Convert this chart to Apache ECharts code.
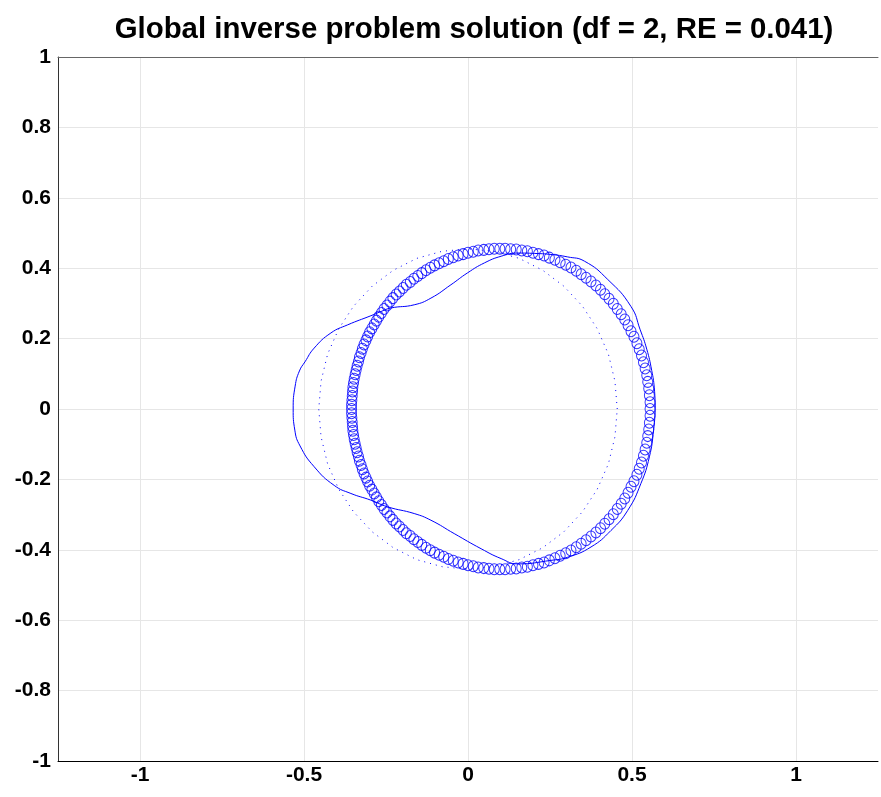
<!DOCTYPE html>
<html>
<head>
<meta charset="utf-8">
<script src="https://cdn.jsdelivr.net/npm/echarts@6.0.0/dist/echarts.min.js"></script>
<style>
html,body{margin:0;padding:0;background:#fff;}
#chart{width:881px;height:797px;}
</style>
</head>
<body>
<div id="chart"></div>
<script>
// ---- tick labels ----
var xTicks = [-1, -0.5, 0, 0.5, 1];
var yTicks = [-1, -0.8, -0.6, -0.4, -0.2, 0, 0.2, 0.4, 0.6, 0.8, 1];

// ---- circle markers (true boundary) ----
var markerX = [
0.555,0.555,0.553,0.551,0.548,0.545,0.540,0.535,0.529,0.522,
0.515,0.506,0.497,0.488,0.478,0.467,0.455,0.443,0.430,0.417,
0.404,0.390,0.375,0.360,0.345,0.330,0.314,0.298,0.281,0.265,
0.248,0.232,0.215,0.198,0.181,0.164,0.147,0.130,0.113,0.097,
0.080,0.064,0.048,0.031,0.016,0.000,
-0.015,-0.030,-0.045,-0.060,-0.074,-0.088,-0.102,-0.115,-0.128,-0.141,
-0.153,-0.165,-0.176,-0.188,-0.198,-0.209,-0.219,-0.229,-0.238,-0.247,
-0.256,-0.264,-0.272,-0.279,-0.286,-0.293,-0.300,-0.306,-0.311,-0.317,
-0.322,-0.326,-0.331,-0.334,-0.338,-0.341,-0.344,-0.347,-0.349,-0.351,
-0.352,-0.353,-0.354,-0.355,-0.355,
-0.355,-0.354,-0.353,-0.352,-0.351,-0.349,-0.347,-0.344,-0.341,-0.338,
-0.334,-0.331,-0.326,-0.322,-0.317,-0.311,-0.306,-0.300,-0.293,-0.286,
-0.279,-0.272,-0.264,-0.256,-0.247,-0.238,-0.229,-0.219,-0.209,-0.198,
-0.188,-0.176,-0.165,-0.153,-0.141,-0.128,-0.115,-0.102,-0.088,-0.074,
-0.060,-0.045,-0.030,-0.015,0.000,0.016,0.031,0.048,0.064,0.080,
0.097,0.113,0.130,0.147,0.164,0.181,0.198,0.215,0.232,0.248,
0.265,0.281,0.298,0.314,0.330,0.345,0.360,0.375,0.390,0.404,
0.417,0.430,0.443,0.455,0.467,0.478,0.488,0.497,0.506,0.515,
0.522,0.529,0.535,0.540,0.545,0.548,0.551,0.553,0.555
];
var markerY = [
0.000,0.019,0.039,0.058,0.077,0.096,0.115,0.133,0.152,0.170,
0.187,0.205,0.221,0.238,0.254,0.269,0.284,0.299,0.313,0.326,
0.339,0.351,0.362,0.373,0.383,0.393,0.402,0.410,0.417,0.424,
0.430,0.436,0.440,0.444,0.448,0.450,0.453,0.454,0.455,0.455,
0.455,0.454,0.452,0.450,0.447,0.444,
0.440,0.436,0.431,0.426,0.420,0.414,0.408,0.401,0.394,0.386,
0.378,0.370,0.361,0.353,0.344,0.334,0.325,0.315,0.305,0.294,
0.284,0.273,0.262,0.251,0.240,0.229,0.218,0.206,0.195,0.183,
0.171,0.159,0.147,0.135,0.123,0.111,0.099,0.086,0.074,0.062,
0.050,0.037,0.025,0.012,0.000,
-0.012,-0.025,-0.037,-0.050,-0.062,-0.074,-0.086,-0.099,-0.111,-0.123,
-0.135,-0.147,-0.159,-0.171,-0.183,-0.195,-0.206,-0.218,-0.229,-0.240,
-0.251,-0.262,-0.273,-0.284,-0.294,-0.305,-0.315,-0.325,-0.334,-0.344,
-0.353,-0.361,-0.370,-0.378,-0.386,-0.394,-0.401,-0.408,-0.414,-0.420,
-0.426,-0.431,-0.436,-0.440,-0.444,-0.447,-0.450,-0.452,-0.454,-0.455,
-0.455,-0.455,-0.454,-0.453,-0.450,-0.448,-0.444,-0.440,-0.436,-0.430,
-0.424,-0.417,-0.410,-0.402,-0.393,-0.383,-0.373,-0.362,-0.351,-0.339,
-0.326,-0.313,-0.299,-0.284,-0.269,-0.254,-0.238,-0.221,-0.205,-0.187,
-0.170,-0.152,-0.133,-0.115,-0.096,-0.077,-0.058,-0.039,-0.019
];

// ---- dotted circle (initial guess) ----
var dotX = [0.455,0.448,0.428,0.394,0.349,0.292,0.228,0.156,0.079,0,-0.079,-0.156,-0.228,-0.292,-0.349,-0.394,-0.428,-0.448,-0.455,-0.448,-0.428,-0.394,-0.349,-0.292,-0.228,-0.156,-0.079,0,0.079,0.156,0.228,0.292,0.349,0.394,0.428,0.448,0.455];
var dotY = [0,0.079,0.156,0.228,0.292,0.349,0.394,0.428,0.448,0.455,0.448,0.428,0.394,0.349,0.292,0.228,0.156,0.079,0,-0.079,-0.156,-0.228,-0.292,-0.349,-0.394,-0.428,-0.448,-0.455,-0.448,-0.428,-0.394,-0.349,-0.292,-0.228,-0.156,-0.079,0];

// ---- solid curve (reconstruction) ----
var solidX = [0.571,0.568,0.560,0.545,0.525,0.497,0.426,0.355,0.304,0.253,0.202,0.152,0.101,0.050,-0.001,-0.052,-0.113,-0.164,-0.235,-0.265,-0.296,-0.367,-0.418,-0.469,-0.497,-0.514,-0.527,-0.533,-0.528,-0.512,-0.469,-0.408,-0.357,-0.296,-0.245,-0.164,-0.113,-0.042,0.040,0.101,0.152,0.253,0.304,0.375,0.436,0.487,0.527,0.553,0.566,0.571];
var solidY = [0.000,0.060,0.110,0.170,0.225,0.291,0.368,0.420,0.432,0.439,0.442,0.443,0.434,0.415,0.387,0.353,0.315,0.296,0.287,0.277,0.265,0.239,0.216,0.173,0.134,0.108,0.065,0.000,-0.060,-0.105,-0.164,-0.217,-0.240,-0.259,-0.278,-0.297,-0.316,-0.354,-0.397,-0.425,-0.440,-0.430,-0.421,-0.392,-0.345,-0.288,-0.212,-0.136,-0.060,0.000];

function zip(a, b) { return a.map(function (v, i) { return [v, b[i]]; }); }

var labelFont = {fontFamily: 'Liberation Sans', fontWeight: 'bold', fontSize: 21, color: '#000'};
var chart = echarts.init(document.getElementById('chart'), null, {renderer: 'canvas'});
chart.setOption({
  animation: false,
  backgroundColor: '#fff',
  title: {
    text: 'Global inverse problem solution (df = 2, RE = 0.041)',
    left: 469, top: 10, textAlign: 'center',
    textStyle: {fontFamily: 'Liberation Sans', fontWeight: 'bold', fontSize: 29.4, color: '#000'}
  },
  grid: {left: 58, right: 3, top: 57, bottom: 36},
  xAxis: [{
    type: 'value', min: -1.25, max: 1.25, position: 'bottom',
    axisLine: {show: true, onZero: false, lineStyle: {color: '#000', width: 1}},
    axisTick: {show: false, customValues: xTicks},
    axisLabel: Object.assign({customValues: xTicks, margin: 4}, labelFont),
    splitLine: {show: true, lineStyle: {color: '#e6e6e6', width: 1}}
  }, {
    type: 'value', min: -1.25, max: 1.25, position: 'top',
    axisLine: {show: true, onZero: false, lineStyle: {color: '#666', width: 1}},
    axisTick: {show: false}, axisLabel: {show: false}, splitLine: {show: false}
  }],
  yAxis: {
    type: 'value', min: -1, max: 1, interval: 0.2,
    axisLine: {show: true, onZero: false, lineStyle: {color: '#333', width: 1}},
    axisTick: {show: false, customValues: yTicks},
    axisLabel: Object.assign({customValues: yTicks, margin: 7}, labelFont),
    splitLine: {show: true, lineStyle: {color: '#e6e6e6', width: 1}}
  },
  series: [{
    type: 'line', name: 'initial', data: zip(dotX, dotY), showSymbol: false, symbol: 'none',
    lineStyle: {color: '#0000ff', width: 1, type: [1, 5]}, z: 2
  }, {
    type: 'scatter', name: 'exact', data: zip(markerX, markerY), symbol: 'circle', symbolSize: [10, 11],
    itemStyle: {color: 'rgba(0,0,0,0)', borderColor: '#0000ff', borderWidth: 1}, z: 3
  }, {
    type: 'line', name: 'reconstruction', data: zip(solidX, solidY), showSymbol: false, symbol: 'none',
    smooth: 0.5, lineStyle: {color: '#0000ff', width: 1}, z: 4
  }]
});
</script>
</body>
</html>
